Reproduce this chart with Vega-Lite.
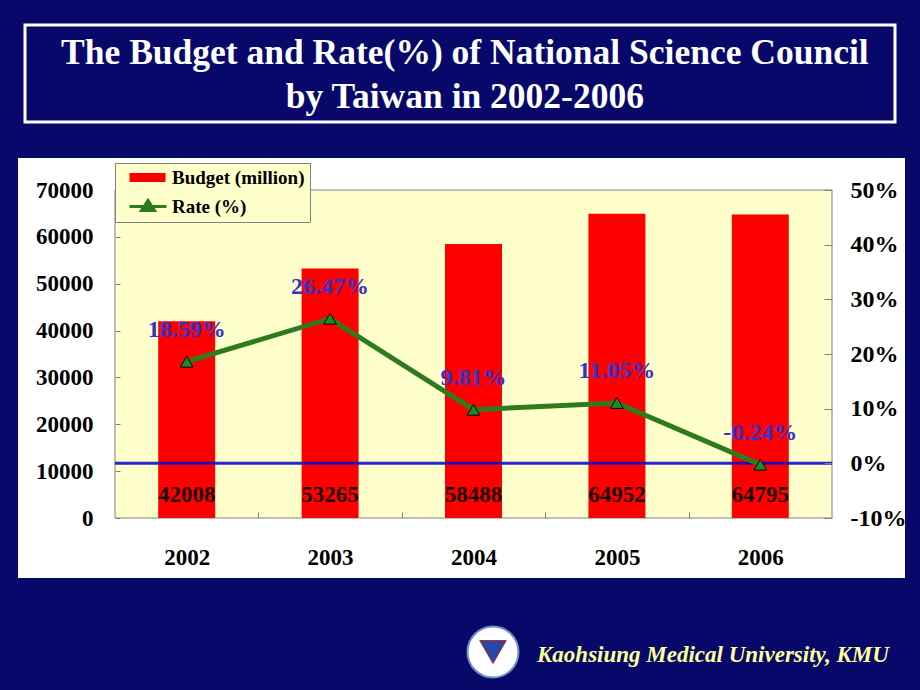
{
  "$schema": "https://vega.github.io/schema/vega-lite/v6.json",
  "width": 717,
  "height": 328,
  "autosize": "none",
  "padding": {"left": 115, "top": 190, "right": 88, "bottom": 172},
  "background": "#08086a",
  "data": {"values": [
    {"year": 2002, "budget": 42008, "rate": 0.1859},
    {"year": 2003, "budget": 53265, "rate": 0.2647},
    {"year": 2004, "budget": 58488, "rate": 0.0981},
    {"year": 2005, "budget": 64952, "rate": 0.1105},
    {"year": 2006, "budget": 64795, "rate": -0.0024}
  ]},
  "layer": [
    {
      "layer": [
        {
          "data": {"values": [{}]},
          "mark": {"type": "rect", "fill": "#FFFFFF"},
          "encoding": {
            "x": {"datum": 2000.8236, "type": "quantitative", "scale": {"domain": [2001.5, 2006.5], "nice": false, "zero": false, "padding": 0},
              "axis": {"title": null, "orient": "bottom", "zindex": 1, "values": [2002, 2003, 2004, 2005, 2006], "format": "d", "domain": false, "ticks": false, "grid": false, "labelPadding": 28, "labelFont": "Liberation Serif", "labelFontSize": 23, "labelFontWeight": "bold", "labelColor": "#000000"}},
            "x2": {"datum": 2007.009},
            "y": {"datum": 76829, "type": "quantitative", "scale": {"domain": [0, 70000], "nice": false, "padding": 0},
              "axis": {"title": null, "orient": "left", "zindex": 1, "values": [0, 10000, 20000, 30000, 40000, 50000, 60000, 70000], "format": "d", "domain": false, "grid": false, "tickSize": -5, "tickColor": "#808080", "labelPadding": 27, "labelFont": "Liberation Serif", "labelFontSize": 23, "labelFontWeight": "bold", "labelColor": "#000000"}},
            "y2": {"datum": -12805}
          }
        },
        {
          "data": {"values": [{}]},
          "mark": {"type": "rect", "fill": "#FFFFCC", "stroke": "#808080", "strokeWidth": 1},
          "encoding": {
            "x": {"datum": 2001.5, "type": "quantitative"},
            "x2": {"datum": 2006.5},
            "y": {"datum": 0, "type": "quantitative"},
            "y2": {"datum": 70000}
          }
        },
        {
          "data": {"values": [{}]},
          "mark": {"type": "rect", "fill": "transparent", "stroke": "#FFFFFF", "strokeWidth": 3},
          "encoding": {
            "x": {"datum": 2000.8724, "type": "quantitative"},
            "x2": {"datum": 2006.9393},
            "y": {"datum": 105213, "type": "quantitative"},
            "y2": {"datum": 84512}
          }
        },
        {
          "data": {"values": [{}]},
          "mark": {"type": "text", "text": ["The Budget and Rate(%) of National Science Council", "by Taiwan in 2002-2006"], "align": "center", "baseline": "alphabetic", "lineHeight": 44, "font": "Liberation Serif", "fontSize": 35.5, "fontWeight": "bold", "color": "#FFFFFF"},
          "encoding": {
            "x": {"datum": 2003.94, "type": "quantitative"},
            "y": {"datum": 96890, "type": "quantitative"}
          }
        },
        {
          "data": {"values": [{}]},
          "mark": {"type": "point", "shape": "circle", "filled": true, "fill": "#FFFFFF", "stroke": "#7090c8", "strokeWidth": 2, "size": 2600, "opacity": 1},
          "encoding": {
            "x": {"datum": 2004.136, "type": "quantitative"},
            "y": {"datum": -28597, "type": "quantitative"}
          }
        },
        {
          "data": {"values": [{}]},
          "mark": {"type": "point", "shape": "triangle-down", "filled": true, "fill": "#2848a8", "stroke": "#c02030", "strokeWidth": 1, "size": 700, "opacity": 1},
          "encoding": {
            "x": {"datum": 2004.136, "type": "quantitative"},
            "y": {"datum": -28597, "type": "quantitative"}
          }
        },
        {
          "data": {"values": [{}]},
          "mark": {"type": "text", "text": "Kaohsiung Medical University, KMU", "align": "left", "baseline": "alphabetic", "font": "Liberation Serif", "fontSize": 23, "fontWeight": "bold", "fontStyle": "italic", "color": "#FFFF99"},
          "encoding": {
            "x": {"datum": 2004.4428, "type": "quantitative"},
            "y": {"datum": -30731, "type": "quantitative"}
          }
        },
        {
          "mark": {"type": "bar", "size": 57},
          "encoding": {
            "x": {"field": "year", "type": "quantitative"},
            "y": {"field": "budget", "type": "quantitative"},
            "color": {"datum": "Budget (million)", "type": "nominal",
              "scale": {"domain": ["Budget (million)", "Rate (%)"], "range": ["#FF0000", "#2F7A1C"]},
              "legend": {"orient": "none", "legendX": 0, "legendY": -27, "zindex": 2, "title": null, "fillColor": "#FFFFCC", "strokeColor": "#808080", "padding": 5, "rowPadding": 6, "symbolSize": 400, "labelOffset": 33, "labelFont": "Liberation Serif", "labelFontSize": 19, "labelFontWeight": "bold", "labelColor": "#000000",
                "encode": {"symbols": {"update": {
                  "shape": {"signal": "datum.value === 'Rate (%)' ? 'M0,0H3.7M1.85,-0.6L2.5,0.4H1.2Z' : 'M0,-0.45H3.6V0.45H0Z'"},
                  "fill": {"signal": "datum.value === 'Rate (%)' ? '#1E8C1E' : '#FF0000'"},
                  "stroke": {"signal": "datum.value === 'Rate (%)' ? '#2F7A1C' : '#FF0000'"},
                  "strokeWidth": {"signal": "datum.value === 'Rate (%)' ? 3 : 0"},
                  "opacity": {"value": 1}
                }}}}}
          }
        },
        {
          "mark": {"type": "text", "baseline": "alphabetic", "dy": -16, "font": "Liberation Serif", "fontSize": 23, "fontWeight": "bold", "color": "#1a0000"},
          "encoding": {
            "x": {"field": "year", "type": "quantitative"},
            "y": {"datum": 0, "type": "quantitative"},
            "text": {"field": "budget", "type": "quantitative", "format": "d"}
          }
        }
      ]
    },
    {
      "layer": [
        {
          "data": {"values": [{}]},
          "mark": {"type": "rule", "color": "#0000CC", "strokeWidth": 3, "opacity": 0.85},
          "encoding": {
            "y": {"datum": 0, "type": "quantitative", "scale": {"domain": [-0.1, 0.5], "nice": false, "padding": 0},
              "axis": {"orient": "right", "zindex": 1, "title": null, "values": [-0.1, 0, 0.1, 0.2, 0.3, 0.4, 0.5], "format": ".0%", "domain": false, "grid": false, "tickSize": -8, "tickColor": "#808080", "labelPadding": 26, "labelFont": "Liberation Serif", "labelFontSize": 24, "labelFontWeight": "bold", "labelColor": "#000000"}}
          }
        },
        {
          "mark": {"type": "line", "strokeWidth": 5},
          "encoding": {
            "x": {"field": "year", "type": "quantitative",
              "axis": {"title": null, "orient": "bottom", "zindex": 1, "values": [2002.5, 2003.5, 2004.5, 2005.5], "labels": false, "domain": false, "grid": false, "tickSize": -6, "tickColor": "#808080"}},
            "y": {"field": "rate", "type": "quantitative"},
            "color": {"datum": "Rate (%)", "type": "nominal", "legend": null}
          }
        },
        {
          "mark": {"type": "point", "shape": "triangle-up", "filled": true, "fill": "#1E8C1E", "stroke": "#000000", "strokeWidth": 1, "size": 160, "opacity": 1},
          "encoding": {
            "x": {"field": "year", "type": "quantitative"},
            "y": {"field": "rate", "type": "quantitative"}
          }
        },
        {
          "mark": {"type": "text", "baseline": "middle", "dy": -32, "font": "Liberation Serif", "fontSize": 24, "fontWeight": "bold", "color": "#3333CC"},
          "encoding": {
            "x": {"field": "year", "type": "quantitative"},
            "y": {"field": "rate", "type": "quantitative"},
            "text": {"field": "rate", "type": "quantitative", "format": ".2%"}
          }
        }
      ]
    }
  ],
  "resolve": {"scale": {"y": "independent"}, "axis": {"x": "independent"}},
  "config": {
    "view": {"stroke": null},
    "scale": {"continuousPadding": 0},
    "locale": {"number": {"decimal": ".", "thousands": ",", "grouping": [3], "currency": ["$", ""], "minus": "-"}}
  }
}
